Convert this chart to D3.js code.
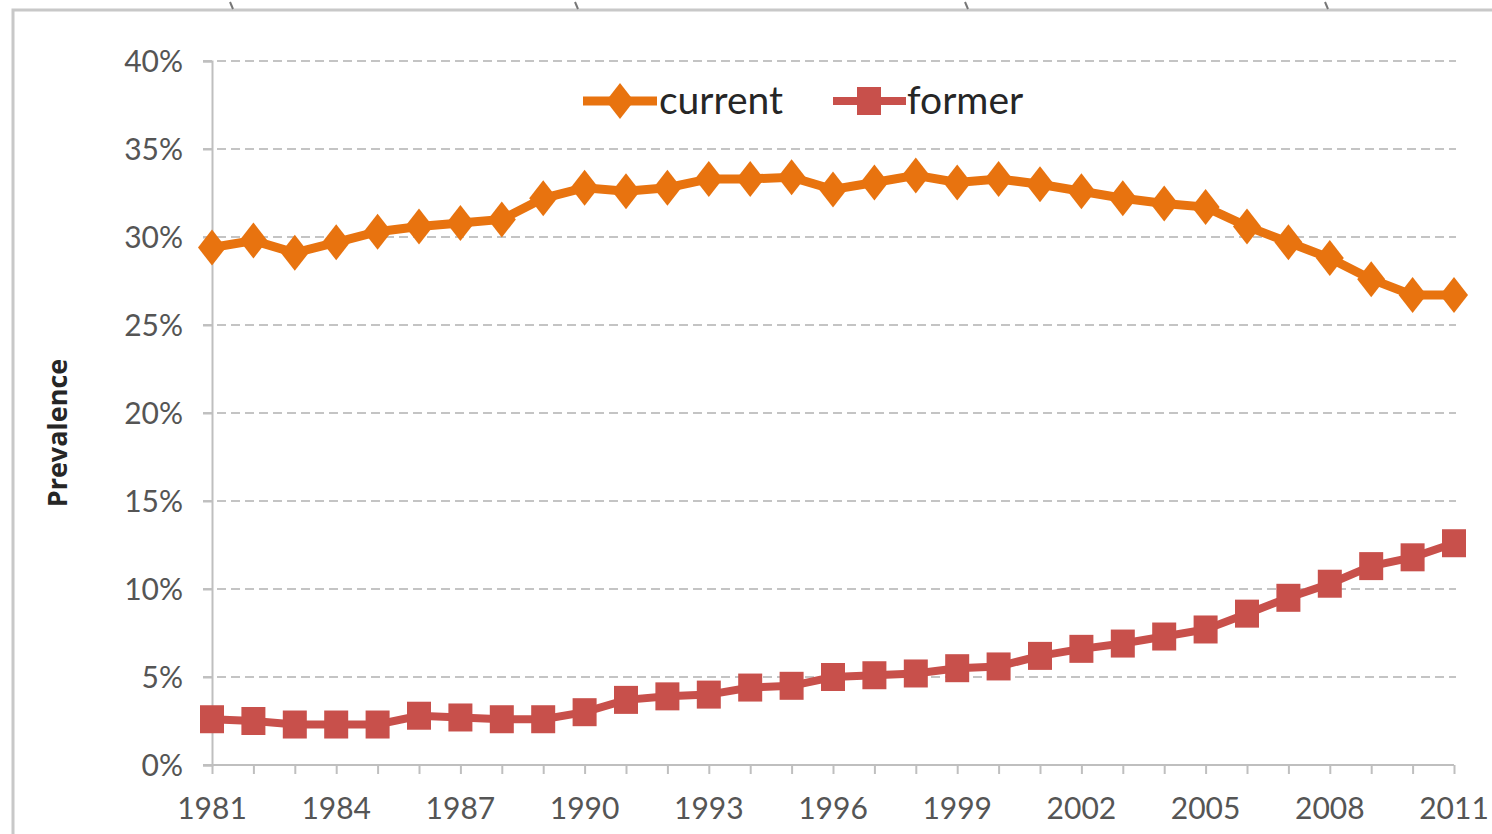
<!DOCTYPE html>
<html>
<head>
    <script src="https://cdnjs.cloudflare.com/ajax/libs/d3/7.8.5/d3.min.js"></script>
    <style>
        body { margin: 0; background: #fff; }
        svg { display: block; background: #fff; }
        .tick-label { font-family: Lato, "Open Sans", sans-serif; font-size: 30px; fill: #555; }
        .legend-label { font-family: Lato, "Open Sans", sans-serif; font-size: 39px; fill: #262626; }
        .axis-title { font-family: "Open Sans", Lato, sans-serif; font-size: 27px; font-weight: bold; fill: #262626; }
    </style>
</head>
<body>
    <svg width="1492" height="834"></svg>
    <script>
        // Data
        const years = d3.range(1981, 2012);
        const current = [29.4, 29.8, 29.1, 29.7, 30.3, 30.6, 30.8, 31.0, 32.2, 32.8,
                         32.6, 32.8, 33.3, 33.3, 33.4, 32.7, 33.1, 33.5, 33.1, 33.3,
                         33.0, 32.6, 32.2, 31.9, 31.7, 30.6, 29.7, 28.8, 27.6, 26.7, 26.7];
        const former = [2.6, 2.5, 2.3, 2.3, 2.3, 2.8, 2.7, 2.6, 2.6, 3.0,
                        3.7, 3.9, 4.0, 4.4, 4.5, 5.0, 5.1, 5.2, 5.5, 5.6,
                        6.2, 6.6, 6.9, 7.3, 7.7, 8.6, 9.5, 10.3, 11.3, 11.8, 12.6];
        const yTicks = [0, 5, 10, 15, 20, 25, 30, 35, 40];
        const xTickLabels = [1981, 1984, 1987, 1990, 1993, 1996, 1999, 2002, 2005, 2008, 2011];

        const svg = d3.select("svg");

        const x = d3.scaleLinear().domain([1981, 2011]).range([212, 1454]);
        const y = d3.scaleLinear().domain([0, 40]).range([765, 61]);

        // outer frame (chart border, partly cut off)
        svg.append("path")
            .attr("d", "M13,834 V10 H1492")
            .attr("fill", "none")
            .attr("stroke", "#c8c8c8")
            .attr("stroke-width", 3);
        [230, 575, 965, 1325].forEach(px => {
            svg.append("line")
                .attr("x1", px).attr("x2", px + 3)
                .attr("y1", 2).attr("y2", 9)
                .attr("stroke", "#777").attr("stroke-width", 2);
        });

        // gridlines
        svg.append("g")
            .selectAll("line")
            .data(yTicks.filter(d => d > 0))
            .join("line")
            .attr("x1", 203).attr("x2", 1456)
            .attr("y1", d => y(d)).attr("y2", d => y(d))
            .attr("stroke", "#c4c4c4")
            .attr("stroke-width", 2)
            .attr("stroke-dasharray", "9,5");

        // y axis
        const yAxis = svg.append("g")
            .attr("transform", "translate(212,0)")
            .call(d3.axisLeft(y).tickValues(yTicks).tickSize(9).tickFormat(d => d + "%"));
        yAxis.select(".domain").attr("stroke", "#bfbfbf").attr("stroke-width", 2);
        yAxis.selectAll(".tick line").attr("stroke", "#bfbfbf").attr("stroke-width", 2);
        yAxis.selectAll(".tick text")
            .attr("class", "tick-label")
            .attr("x", -29)
            .attr("dy", "0.35em");
        yAxis.attr("font-size", null).attr("font-family", null);

        // x axis
        const xAxis = svg.append("g")
            .attr("transform", "translate(0,765)")
            .call(d3.axisBottom(x).tickValues(years).tickSize(9).tickFormat(""));
        xAxis.select(".domain").attr("stroke", "#bfbfbf").attr("stroke-width", 2)
            .attr("d", "M203,0H1454");
        xAxis.selectAll(".tick line").attr("stroke", "#bfbfbf").attr("stroke-width", 2);
        svg.append("g")
            .selectAll("text")
            .data(xTickLabels)
            .join("text")
            .attr("class", "tick-label")
            .attr("x", d => x(d))
            .attr("y", 819)
            .attr("text-anchor", "middle")
            .text(d => d);

        // axis title
        svg.append("text")
            .attr("class", "axis-title")
            .attr("transform", "translate(67,433) rotate(-90)")
            .attr("text-anchor", "middle")
            .text("Prevalence");

        const orange = "#E8730F";
        const red = "#C8504B";

        const line = d3.line().x((d, i) => x(years[i])).y(d => y(d));

        // former series
        svg.append("path")
            .datum(former)
            .attr("fill", "none")
            .attr("stroke", red)
            .attr("stroke-width", 8)
            .attr("d", line);
        svg.append("g")
            .selectAll("rect")
            .data(former)
            .join("rect")
            .attr("x", (d, i) => x(years[i]) - 12)
            .attr("y", d => y(d) - 14)
            .attr("width", 24)
            .attr("height", 28)
            .attr("fill", red);

        // current series
        svg.append("path")
            .datum(current)
            .attr("fill", "none")
            .attr("stroke", orange)
            .attr("stroke-width", 9)
            .attr("d", line);
        const diamond = (cx, cy) => `M${cx},${cy - 18}L${cx + 14},${cy}L${cx},${cy + 18}L${cx - 14},${cy}Z`;
        svg.append("g")
            .selectAll("path")
            .data(current)
            .join("path")
            .attr("d", (d, i) => diamond(x(years[i]), y(d)))
            .attr("fill", orange);

        // legend
        const legend = svg.append("g");
        legend.append("line")
            .attr("x1", 583).attr("x2", 657).attr("y1", 101).attr("y2", 101)
            .attr("stroke", orange).attr("stroke-width", 9);
        legend.append("path").attr("d", diamond(620, 101)).attr("fill", orange);
        legend.append("text").attr("class", "legend-label")
            .attr("x", 659).attr("y", 114).text("current");
        legend.append("line")
            .attr("x1", 833).attr("x2", 906).attr("y1", 101).attr("y2", 101)
            .attr("stroke", red).attr("stroke-width", 8);
        legend.append("rect")
            .attr("x", 857).attr("y", 87).attr("width", 24).attr("height", 28)
            .attr("fill", red);
        legend.append("text").attr("class", "legend-label")
            .attr("x", 907).attr("y", 114).text("former");
    </script>
</body>
</html>
